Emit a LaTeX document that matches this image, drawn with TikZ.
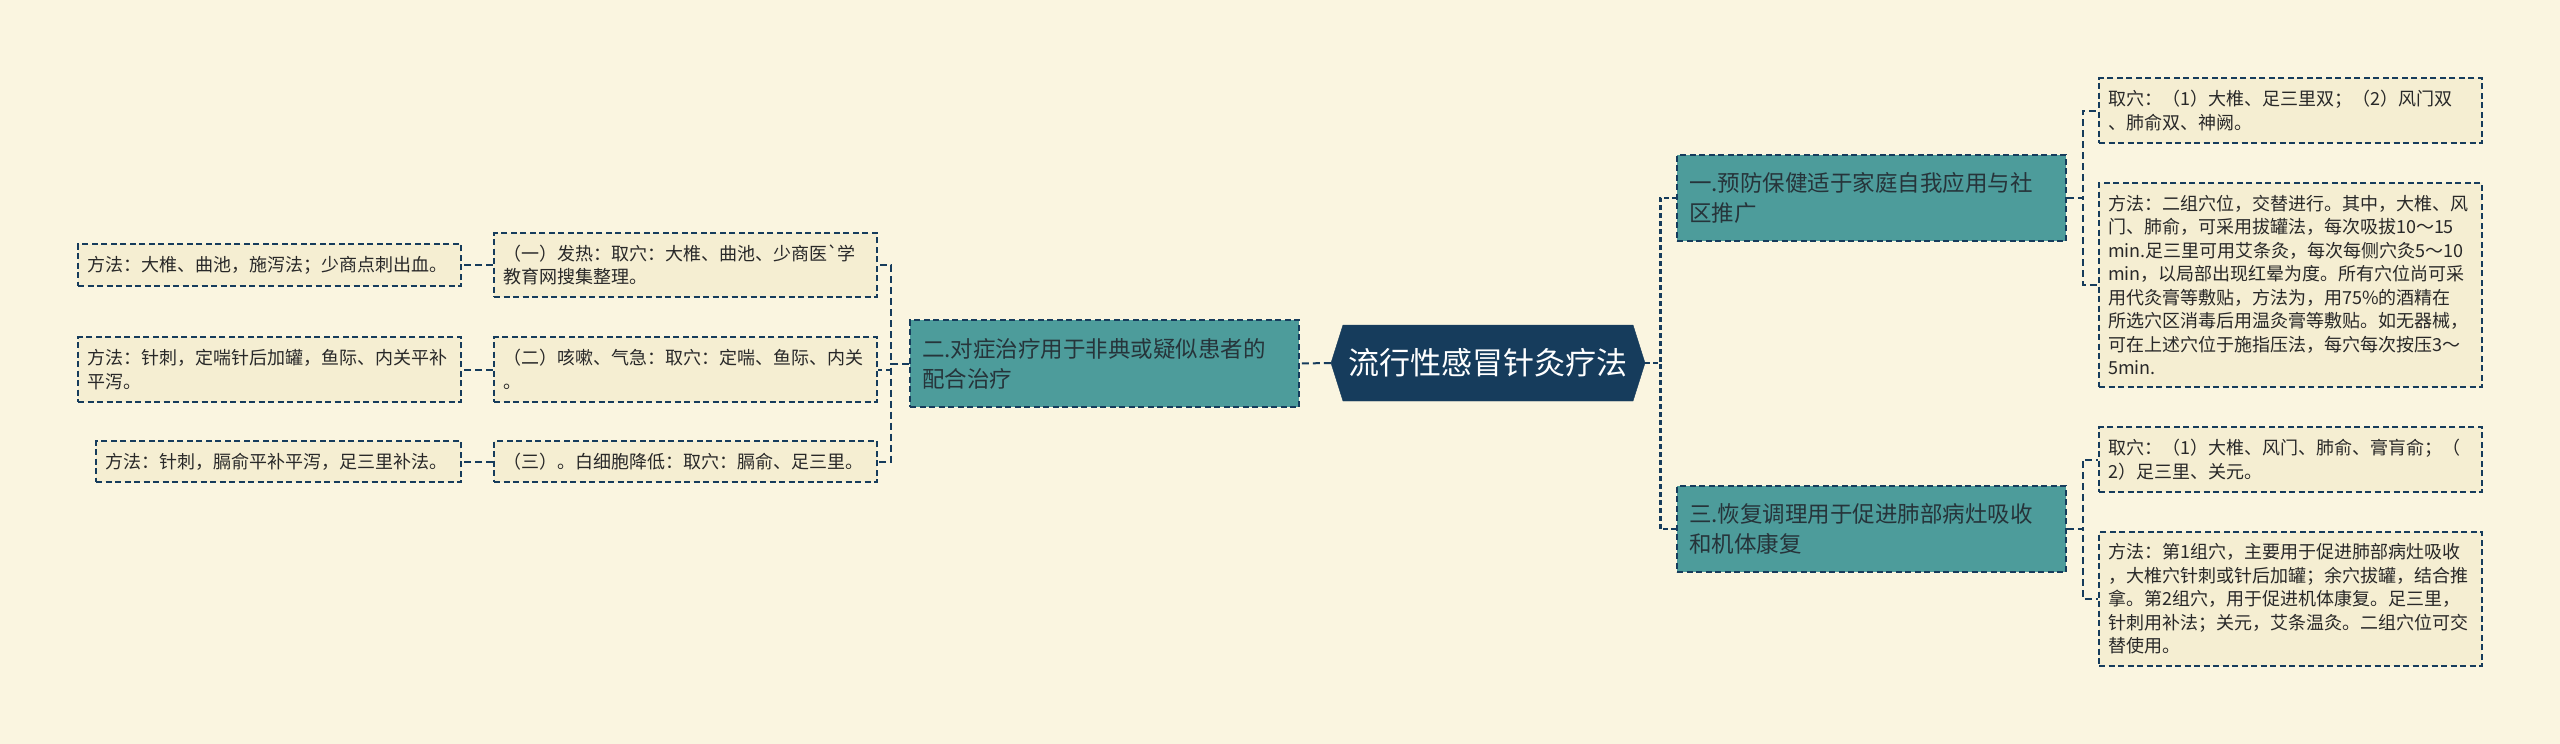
\documentclass[tikz,border=0pt]{standalone}
\usepackage{fontspec}
\usepackage{tikz}
\usetikzlibrary{shapes.symbols}
\usetikzlibrary{positioning}
\newfontfamily\cjkfont{Noto Sans CJK SC}
\definecolor{paper}{RGB}{250,245,224}
\definecolor{leaffill}{RGB}{245,238,210}
\definecolor{tealfill}{RGB}{77,156,155}
\definecolor{navy}{RGB}{22,60,92}
\definecolor{ink}{RGB}{40,40,40}
\definecolor{tealink}{RGB}{38,52,58}
\tikzset{
    root/.style={signal, signal to=west and east, signal pointer angle=145,
        fill=navy, draw=navy, text=white, inner sep=0pt,
        font=\cjkfont\fontsize{31}{36}\selectfont},
    branch/.style={rectangle, fill=tealfill, draw=navy, line width=1.6pt,
        dash pattern=on 6pt off 3.5pt, text=tealink, align=left,
        inner xsep=12pt, inner ysep=0pt, text width=365pt,
        font=\cjkfont\fontsize{22.5}{30}\selectfont},
    leaf/.style={rectangle, fill=leaffill, draw=navy, line width=1.6pt,
        dash pattern=on 6pt off 3.5pt, text=ink, align=left,
        inner xsep=9pt, inner ysep=0pt, text width=365pt,
        font=\cjkfont\fontsize{18}{23.5}\selectfont},
    link/.style={draw=navy, line width=2pt, dash pattern=on 7pt off 4pt},
    trunk/.style={draw=navy, line width=2.6pt, dash pattern=on 5pt off 3pt},
}

\begin{document}
\begin{tikzpicture}[x=1pt, y=-1pt]
	\fill[paper] (0,0) rectangle (2560,744);
	\useasboundingbox (0,0) rectangle (2560,744);
	\node[root, minimum width=314pt, minimum height=76pt] (root) at (1488,363) {流行性感冒针灸疗法};
	% right half
	\node[branch, minimum height=86pt] (prevent) at (1871.5,198) {一.预防保健适于家庭自我应用与社\\区推广};
	\node[branch, minimum height=86pt] (recover) at (1871.5,529) {三.恢复调理用于促进肺部病灶吸收\\和机体康复};
	\node[leaf, minimum height=65pt] (point1) at (2290.5,110.5) {取穴：（1）大椎、足三里双；（2）风门双\\、肺俞双、神阙。};
	\node[leaf, minimum height=204pt] (method1) at (2290.5,285) {方法：二组穴位，交替进行。其中，大椎、风\\门、肺俞，可采用拔罐法，每次吸拔10～15\\min.足三里可用艾条灸，每次每侧穴灸5～10\\min，以局部出现红晕为度。所有穴位尚可采\\用代灸膏等敷贴，方法为，用75\%的酒精在\\所选穴区消毒后用温灸膏等敷贴。如无器械，\\可在上述穴位于施指压法，每穴每次按压3～\\5min.};
	\node[leaf, minimum height=65pt] (point3) at (2290.5,459.5) {取穴：（1）大椎、风门、肺俞、膏肓俞；（\\2）足三里、关元。};
	\node[leaf, minimum height=134pt] (method3) at (2290.5,599) {方法：第1组穴，主要用于促进肺部病灶吸收\\，大椎穴针刺或针后加罐；余穴拔罐，结合推\\拿。第2组穴，用于促进机体康复。足三里，\\针刺用补法；关元，艾条温灸。二组穴位可交\\替使用。};
	% left half
	\node[branch, minimum height=87pt] (treat) at (1104.5,363.5) {二.对症治疗用于非典或疑似患者的\\配合治疗};
	\node[leaf, minimum height=64pt] (fever) at (685.5,265) {（一）发热：取穴：大椎、曲池、少商医\textasciigrave 学\\教育网搜集整理。};
	\node[leaf, minimum height=65pt] (cough) at (685.5,369.5) {（二）咳嗽、气急：取穴：定喘、鱼际、内关\\。};
	\node[leaf, minimum height=41pt] (cells) at (685.5,461.5) {（三）。白细胞降低：取穴：膈俞、足三里。};
	\node[leaf, minimum height=42pt] (fevercure) at (269.5,265) {方法：大椎、曲池，施泻法；少商点刺出血。};
	\node[leaf, minimum height=65pt] (coughcure) at (269.5,369.5) {方法：针刺，定喘针后加罐，鱼际、内关平补\\平泻。};
	\node[leaf, minimum height=41pt, text width=347pt] (cellscure) at (278.5,461.5) {方法：针刺，膈俞平补平泻，足三里补法。};

	\draw[trunk] (root.east) -- ++(15,0) |- (prevent.west);
	\draw[trunk] (root.east) -- ++(15,0) |- (recover.west);
	\draw[link] (root.west) -- (treat.east);
	\draw[link] (prevent.east) -- ++(16,0) |- (point1.west);
	\draw[link] (prevent.east) -- ++(16,0) |- (method1.west);
	\draw[link] (recover.east) -- ++(16,0) |- (point3.west);
	\draw[link] (recover.east) -- ++(16,0) |- (method3.west);
	\draw[link] (treat.west) -- ++(-18,0) |- (fever.east);
	\draw[link] (treat.west) -- ++(-18,0) |- (cough.east);
	\draw[link] (treat.west) -- ++(-18,0) |- (cells.east);
	\draw[link] (fever.west) -- ++(-16,0) |- (fevercure.east);
	\draw[link] (cough.west) -- ++(-16,0) |- (coughcure.east);
	\draw[link] (cells.west) -- ++(-16,0) |- (cellscure.east);
\end{tikzpicture}
\end{document}
